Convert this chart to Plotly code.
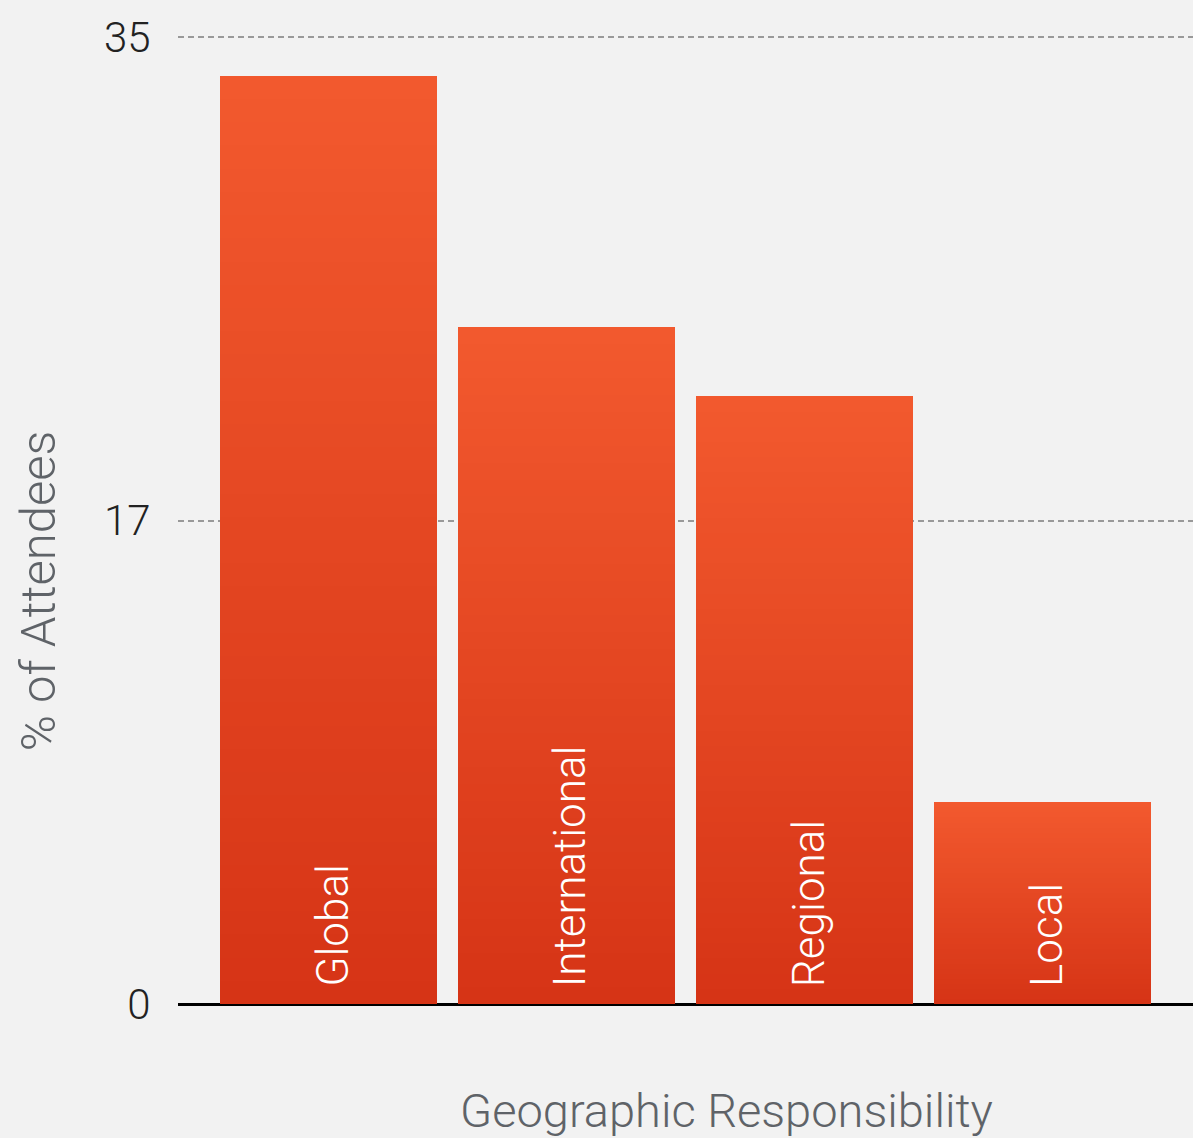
import plotly.graph_objects as go

categories = ["Global", "International", "Regional", "Local"]
values = [33.6, 24.5, 22.0, 7.3]
tick_values = [0, 17.5, 35]
tick_labels = ["0", "17", "35"]

top_color = (242, 89, 46)
bottom_color = (214, 52, 22)
N = 40

FONT = "Helvetica Neue, Roboto, Liberation Sans, sans-serif"

fig = go.Figure()
for k in range(N):
    t = k / (N - 1)
    c = tuple(round(bottom_color[j] + (top_color[j] - bottom_color[j]) * t) for j in range(3))
    fig.add_trace(go.Bar(
        x=categories,
        y=[v / N for v in values],
        marker=dict(color=f"rgb{c}", line=dict(width=0)),
        hoverinfo="skip",
        showlegend=False,
    ))

for cat in categories:
    fig.add_annotation(
        x=cat, y=0, xref="x", yref="y",
        text=cat, textangle=-90, showarrow=False,
        yanchor="bottom", xanchor="center", yshift=15, xshift=4,
        font=dict(family=FONT, size=44, color="white", weight=300),
    )

fig.add_annotation(
    xref="paper", yref="paper", x=0.54, y=0, yshift=-106,
    text="Geographic Responsibility", showarrow=False,
    xanchor="center", yanchor="middle",
    font=dict(family=FONT, size=47, color="#5f6368", weight=300),
)
fig.add_annotation(
    xref="paper", yref="paper", x=-0.138, y=0.427,
    text="% of Attendees", showarrow=False, textangle=-90,
    xanchor="center", yanchor="middle",
    font=dict(family=FONT, size=49, color="#5f6368", weight=300),
)

fig.update_layout(
    width=1193, height=1138,
    margin=dict(l=178, r=0, t=35, b=134),
    paper_bgcolor="#f2f2f2", plot_bgcolor="#f2f2f2",
    barmode="stack", bargap=0.09,
    xaxis=dict(range=[-0.63, 3.63], showticklabels=False, showgrid=False,
               showline=False, zeroline=False, ticks=""),
    yaxis=dict(range=[0, 35.08], tickvals=tick_values, ticktext=tick_labels,
               showgrid=True, gridcolor="#999999", gridwidth=2, griddash="6px,4px",
               zeroline=True, zerolinecolor="black", zerolinewidth=3,
               ticks="outside", ticklen=18, tickcolor="rgba(0,0,0,0)",
               tickfont=dict(family=FONT, size=42, color="#222222", weight=300)),
)

fig.write_html("out.html", config={"displayModeBar": False},
               post_script="document.body.style.margin='0';")
